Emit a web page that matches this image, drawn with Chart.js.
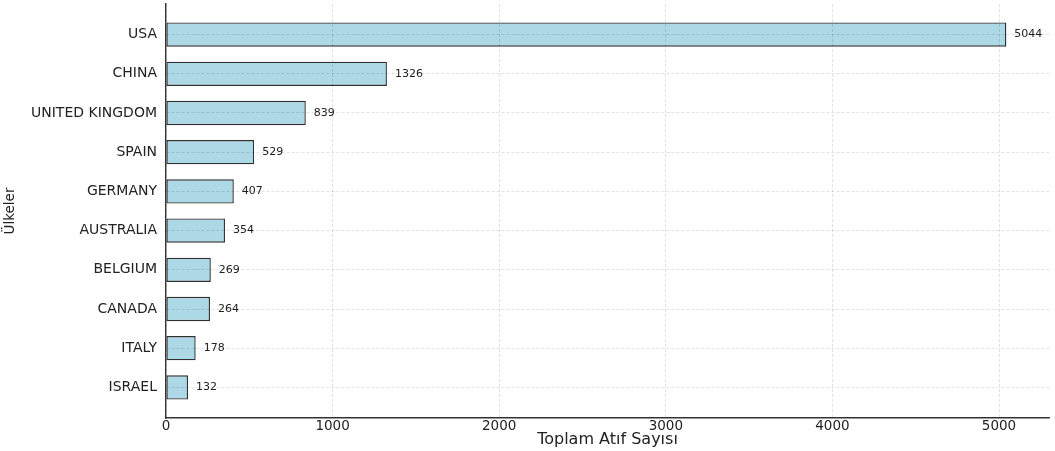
<!DOCTYPE html>
<html>
<head>
<meta charset="utf-8">
<script src="https://cdn.jsdelivr.net/npm/chart.js@4/dist/chart.umd.min.js"></script>
<style>
  html, body { margin: 0; padding: 0; background: #fff; }
  #wrap { width: 1055px; height: 451px; }
</style>
</head>
<body>
<div id="wrap"><canvas id="c" width="1055" height="451"></canvas></div>
<script>
// Total citations per country
const countries = ["USA", "CHINA", "UNITED KINGDOM", "SPAIN", "GERMANY", "AUSTRALIA", "BELGIUM", "CANADA", "ITALY", "ISRAEL"];
const citations = [5044, 1326, 839, 529, 407, 354, 269, 264, 178, 132];
const xTickValues = [0, 1000, 2000, 3000, 4000, 5000];

const FONT = "'DejaVu Sans', Verdana, sans-serif";
const GRID = 'rgba(0,0,0,0.15)';
const AXIS = '#333333';

// Writes each bar's value just past its end
const valueLabels = {
  id: 'valueLabels',
  afterDatasetsDraw(chart) {
    const ctx = chart.ctx;
    const meta = chart.getDatasetMeta(0);
    ctx.save();
    ctx.font = '11px ' + FONT;
    ctx.fillStyle = '#222';
    ctx.textAlign = 'left';
    ctx.textBaseline = 'middle';
    meta.data.forEach((bar, i) => {
      ctx.fillText(String(citations[i]), bar.x + 8, bar.y);
    });
    ctx.restore();
  }
};

new Chart(document.getElementById('c'), {
  type: 'bar',
  data: {
    datasets: [{
      data: citations.map((v, i) => ({ x: v, y: i })),
      backgroundColor: '#ADD8E6',
      borderColor: 'rgba(25,25,25,0.9)',
      borderWidth: 1.4,
      borderSkipped: false,
      categoryPercentage: 1,
      barPercentage: 0.62
    }]
  },
  options: {
    indexAxis: 'y',
    responsive: false,
    animation: false,
    layout: { padding: { top: 4, right: 6, bottom: 0, left: 0 } },
    plugins: { legend: { display: false }, tooltip: { enabled: false } },
    scales: {
      x: {
        type: 'linear',
        min: 0,
        max: 5300,
        afterBuildTicks(scale) { scale.ticks = xTickValues.map(v => ({ value: v })); },
        afterFit(scale) {
          scale.height = 33;
          scale.paddingLeft = 0;
          scale.paddingRight = 0;
        },
        grid: { color: GRID, lineWidth: 0.8, drawTicks: false, z: 1 },
        border: { display: true, color: AXIS, width: 1.4, dash: [3, 2], z: 2 },
        ticks: { padding: 0, color: '#222', font: { family: FONT, size: 13.5 },
                 callback: (v) => String(v) },
        title: { display: true, text: 'Toplam Atıf Sayısı', color: '#222',
                 font: { family: FONT, size: 16 }, padding: { top: 0, bottom: 2 } }
      },
      y: {
        type: 'linear',
        reverse: true,
        offset: false,
        min: -0.78,
        max: 9.78,
        afterBuildTicks(scale) { scale.ticks = countries.map((_, i) => ({ value: i })); },
        afterFit(scale) {
          scale.width = 166;
          scale.paddingTop = 0;
          scale.paddingBottom = 0;
        },
        grid: { offset: false, color: GRID, lineWidth: 0.8, drawTicks: false, z: 1 },
        border: { display: true, color: AXIS, width: 1.4, dash: [3, 2], z: 2 },
        ticks: {
          padding: 9, color: '#222', font: { family: FONT, size: 14 },
          callback: (v) => countries[v]
        },
        title: { display: true, text: 'Ülkeler', color: '#222',
                 font: { family: FONT, size: 13.5 }, padding: { top: 2, bottom: 0 } }
      }
    }
  },
  plugins: [valueLabels]
});
</script>
</body>
</html>
